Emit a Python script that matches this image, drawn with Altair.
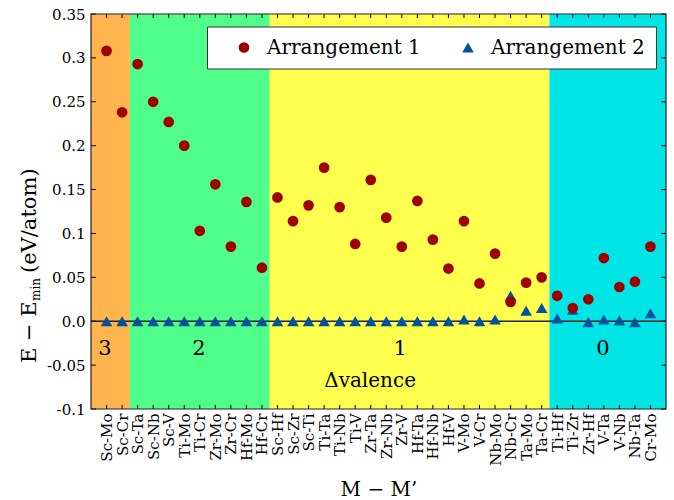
import json
import altair as alt
import pandas as pd

# ---------------- data ----------------
categories = ["Sc-Mo", "Sc-Cr", "Sc-Ta", "Sc-Nb", "Sc-V", "Ti-Mo", "Ti-Cr", "Zr-Mo",
              "Zr-Cr", "Hf-Mo", "Hf-Cr", "Sc-Hf", "Sc-Zr", "Sc-Ti", "Ti-Ta", "Ti-Nb",
              "Ti-V", "Zr-Ta", "Zr-Nb", "Zr-V", "Hf-Ta", "Hf-Nb", "Hf-V", "V-Mo",
              "V-Cr", "Nb-Mo", "Nb-Cr", "Ta-Mo", "Ta-Cr", "Ti-Hf", "Ti-Zr", "Zr-Hf",
              "V-Ta", "V-Nb", "Nb-Ta", "Cr-Mo"]
positions = list(range(1, len(categories) + 1))

arrangement1 = [0.308, 0.238, 0.293, 0.250, 0.227, 0.200, 0.103, 0.156,
                0.085, 0.136, 0.061, 0.141, 0.114, 0.132, 0.175, 0.130,
                0.088, 0.161, 0.118, 0.085, 0.137, 0.093, 0.060, 0.114,
                0.043, 0.077, 0.022, 0.044, 0.050, 0.029, 0.015, 0.025,
                0.072, 0.039, 0.045, 0.085]
arrangement2 = [0.0, 0.0, 0.0, 0.0, 0.0, 0.0, 0.0, 0.0,
                0.0, 0.0, 0.0, 0.0, 0.0, 0.0, 0.0, 0.0,
                0.0, 0.0, 0.0, 0.0, 0.0, 0.0, 0.0, 0.002,
                0.0, 0.002, 0.029, 0.012, 0.015, 0.003, 0.013, -0.001,
                0.002, 0.001, -0.001, 0.009]
series_names = ["Arrangement 1", "Arrangement 2"]

band_start = [0.0, 2.5, 11.5, 29.5]
band_end = [2.5, 11.5, 29.5, 37.0]
band_colors = ["#FFB44D", "#4FFF8A", "#FFFF4D", "#00E6E6"]

valence_labels = ["3", "2", "1", "0"]
valence_label_x = [0.9, 6.95, 19.9, 32.95]
valence_label_y = [-0.032, -0.032, -0.032, -0.032]
delta_label = ["\u0394valence"]
delta_label_x = [17.96]
delta_label_y = [-0.068]

ytick_values = [-0.1, -0.05, 0.0, 0.05, 0.1, 0.15, 0.2, 0.25, 0.3, 0.35]
ytick_labels = ["-0.1", "-0.05", "0.0", "0.05", "0.1", "0.15", "0.2", "0.25", "0.3", "0.35"]

# ---------------- layout / style ----------------
W, H = 575, 395
FONT = "DejaVu Serif"
xscale = alt.Scale(domain=[0, 37], nice=False, zero=False)
yscale = alt.Scale(domain=[-0.1, 0.35], nice=False, zero=False)

xaxis = alt.Axis(values=positions, labelExpr=f"{json.dumps(categories)}[datum.value - 1]",
                 labelAngle=270, labelAlign="right", labelBaseline="middle",
                 labelPadding=4, labelFont=FONT, labelFontSize=15, labelColor="black",
                 labelOverlap=False, labelFlush=False, ticks=False, domain=False, grid=False,
                 title="M \u2212 M\u2019", titleFont=FONT, titleFontSize=20,
                 titleFontWeight="normal", titleColor="black", titleBaseline="alphabetic",
                 titleY=86)
yaxis = alt.Axis(values=ytick_values,
                 labelExpr=f"{json.dumps(ytick_labels)}[indexof({json.dumps(ytick_values)}, datum.value)]",
                 labelPadding=6, labelFont=FONT, labelFontSize=15, labelColor="black",
                 labelOverlap=False, labelFlush=False, ticks=False, domain=False, grid=False,
                 title=None)


def X(field):
    return alt.X(field, type="quantitative", scale=xscale, axis=xaxis)


def Y(field):
    return alt.Y(field, type="quantitative", scale=yscale, axis=yaxis)


# ---------------- tables ----------------
bands_df = pd.DataFrame({"x0": band_start, "x1": band_end, "c": band_colors})
pts_df = pd.DataFrame({
    "pos": positions + positions,
    "val": arrangement2 + arrangement1,
    "series": [series_names[1]] * len(positions) + [series_names[0]] * len(positions),
    "order": list(range(2 * len(positions))),
})
val_df = pd.DataFrame({"x": valence_label_x, "y": valence_label_y, "t": valence_labels})
delta_df = pd.DataFrame({"x": delta_label_x, "y": delta_label_y, "t": delta_label})
ytick_df = pd.DataFrame({"v": ytick_values})
xtick_df = pd.DataFrame({"p": positions})
zero_df = pd.DataFrame({"v": [0.0]})
one_df = pd.DataFrame({"a": [1]})

# ---------------- layers ----------------
bands = alt.Chart(bands_df).mark_rect(strokeWidth=0).encode(
    x=X("x0"), x2="x1", y=alt.value(0), y2=alt.value(H),
    fill=alt.Fill("c:N", scale=None, legend=None))

zero_line = alt.Chart(zero_df).mark_rule(color="#222222", strokeWidth=1.5).encode(y=Y("v"))

legend = alt.Legend(orient="none", legendX=116, legendY=12.5, direction="horizontal",
                    title=None, fillColor="white", strokeColor="#333333", padding=11,
                    symbolOffset=16, labelOffset=13, columnPadding=21, symbolSize=100,
                    symbolStrokeWidth=0, labelFont=FONT, labelFontSize=20,
                    labelColor="black", labelLimit=400)

points = alt.Chart(pts_df).mark_point(filled=True, opacity=1, strokeWidth=0).encode(
    x=X("pos"), y=Y("val"),
    color=alt.Color("series:N", scale=alt.Scale(domain=series_names, range=["#9E0000", "#0052A0"]),
                    legend=legend),
    shape=alt.Shape("series:N", scale=alt.Scale(domain=series_names, range=["circle", "triangle-up"]),
                    legend=legend),
    size=alt.Size("series:N", scale=alt.Scale(domain=series_names, range=[115, 135]),
                  legend=None),
    order=alt.Order("order:Q"))

val_text = alt.Chart(val_df).mark_text(font=FONT, fontSize=21, color="black",
                                       align="center", baseline="middle").encode(
    x=X("x"), y=Y("y"), text="t:N")

delta_text = alt.Chart(delta_df).mark_text(font=FONT, fontSize=20, color="black",
                                           align="center", baseline="middle").encode(
    x=X("x"), y=Y("y"), text="t:N")

# y axis title pieces: E - E_min (eV/atom)
yt1 = alt.Chart(one_df).mark_text(text="E \u2212 E", font=FONT, fontSize=21, angle=270,
                                  align="left", baseline="alphabetic", color="black").encode(
    x=alt.value(-55), y=alt.value(349))
yt2 = alt.Chart(one_df).mark_text(text="min", font=FONT, fontSize=12, angle=270,
                                  align="left", baseline="alphabetic", color="black").encode(
    x=alt.value(-51), y=alt.value(287))
yt3 = alt.Chart(one_df).mark_text(text="(eV/atom)", font=FONT, fontSize=21, angle=270,
                                  align="left", baseline="alphabetic", color="black").encode(
    x=alt.value(-55), y=alt.value(259))

# inward ticks
ytick_left = alt.Chart(ytick_df).mark_rule(color="black", strokeWidth=1).encode(
    y=Y("v"), x=alt.value(0), x2=alt.value(5))
ytick_right = alt.Chart(ytick_df).mark_rule(color="black", strokeWidth=1).encode(
    y=Y("v"), x=alt.value(W), x2=alt.value(W - 5))
xtick_bottom = alt.Chart(xtick_df).mark_rule(color="black", strokeWidth=1).encode(
    x=X("p"), y=alt.value(H), y2=alt.value(H - 4))
xtick_top = alt.Chart(xtick_df).mark_rule(color="black", strokeWidth=1).encode(
    x=X("p"), y=alt.value(0), y2=alt.value(4))

frame = alt.Chart(one_df).mark_rect(fillOpacity=0, stroke="#222222", strokeWidth=1.2).encode(
    x=alt.value(0), x2=alt.value(W), y=alt.value(0), y2=alt.value(H))

chart = alt.layer(
    bands, zero_line, points, val_text, delta_text, yt1, yt2, yt3,
    ytick_left, ytick_right, xtick_bottom, xtick_top, frame
).properties(
    width=W, height=H,
    autosize=alt.AutoSizeParams(type="none"),
    padding={"left": 91, "top": 14, "right": 8, "bottom": 91},
    background="white",
).configure_view(stroke=None).configure_legend(
    labelFont=FONT, labelFontSize=20, labelColor="black"
)

chart.save("out.html", embed_options={"renderer": "svg", "actions": False})
